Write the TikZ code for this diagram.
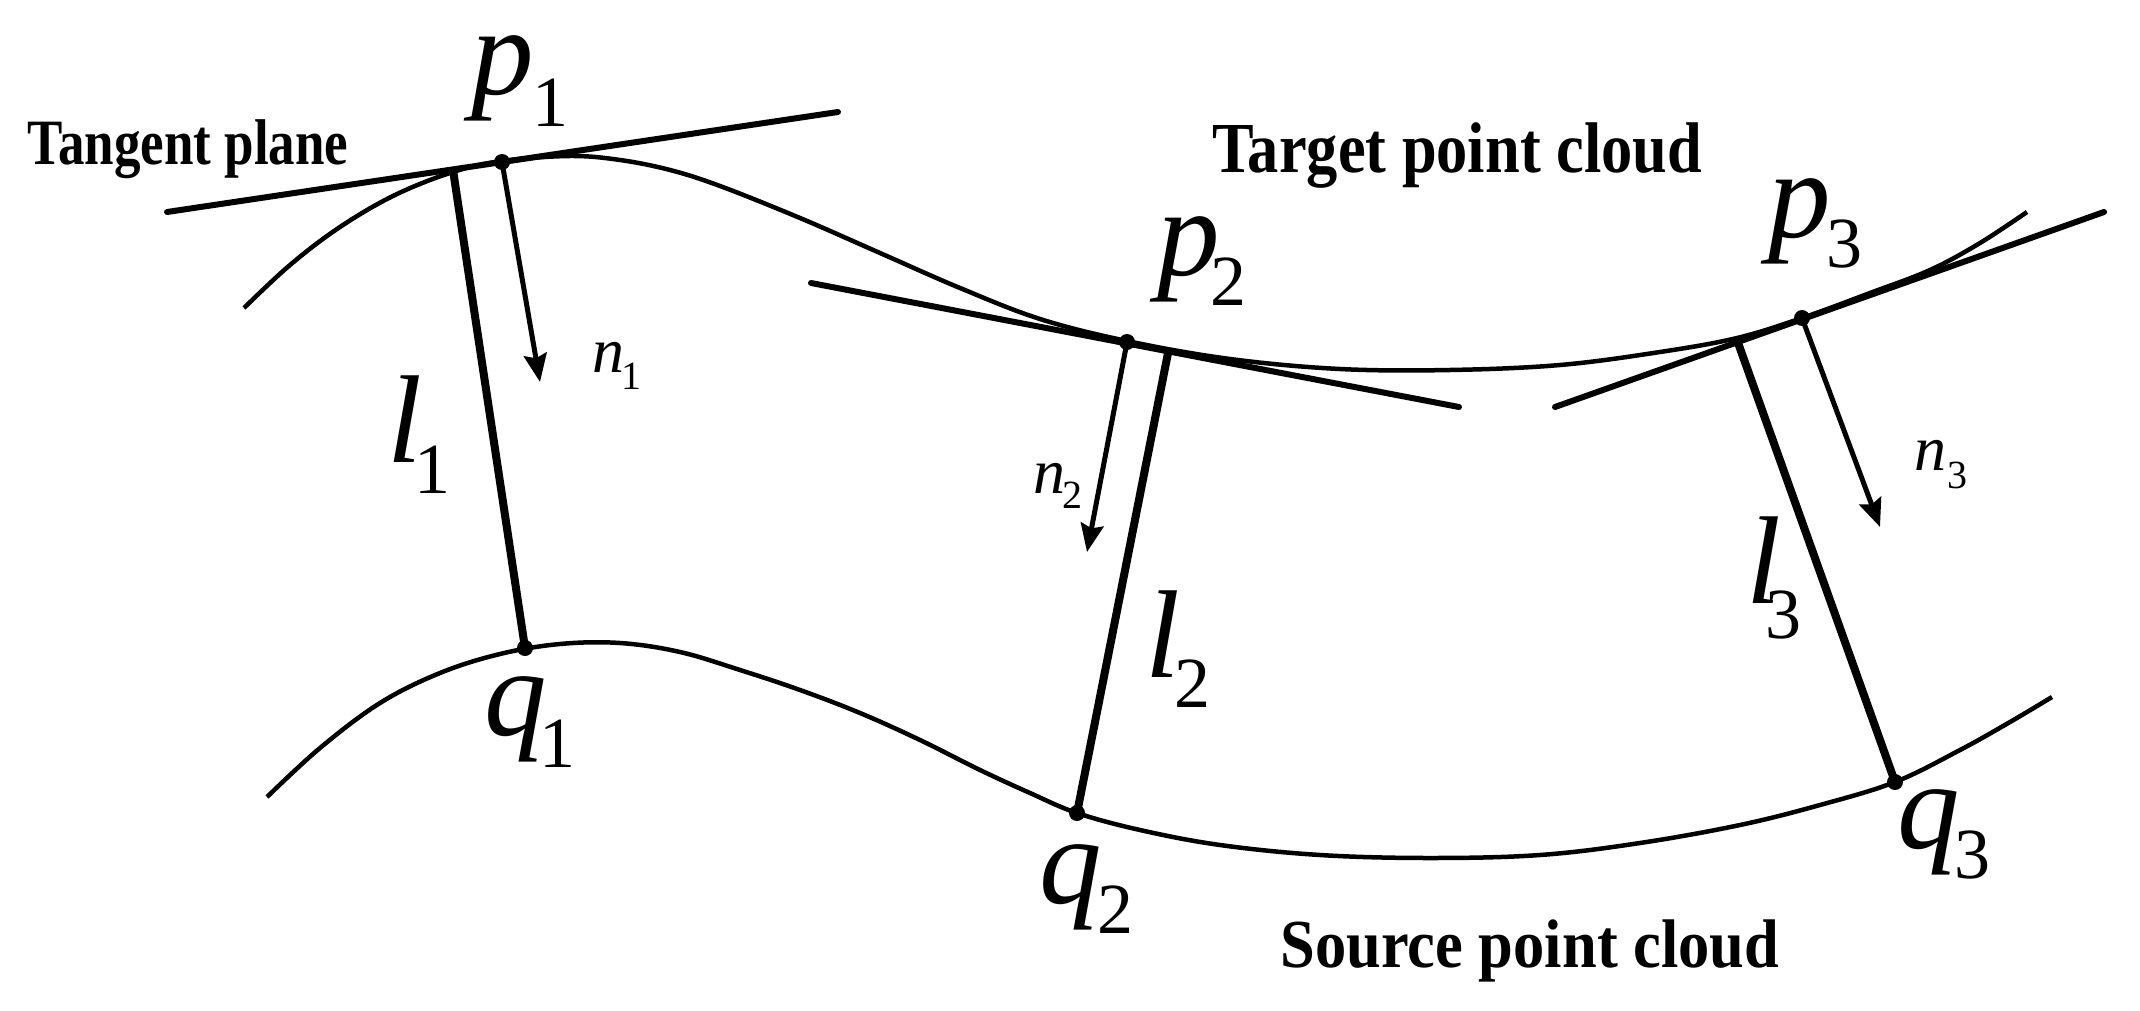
\documentclass[tikz,border=0pt]{standalone}
\usepackage{fontspec}
\setmainfont{Liberation Serif}
\usetikzlibrary{arrows.meta}
\newcommand{\bigL}{\fontsize{125}{125}\selectfont\itshape}
\newcommand{\bigS}{\fontsize{72}{72}\selectfont}
\newcommand{\smL}{\fontsize{64}{64}\selectfont\itshape}
\newcommand{\smS}{\fontsize{40}{40}\selectfont}
\begin{document}
\begin{tikzpicture}[x=1pt,y=-1pt,
  curve/.style={line width=4.5pt},
  tangent/.style={line width=6pt,line cap=round},
  lseg/.style={line width=8pt},
  normal/.style={line width=5pt,-{Stealth[length=28pt,width=23pt,inset=4pt]}},
  dotpt/.style={fill=black},
  lab/.style={inner sep=0pt,outer sep=0pt,anchor=base west},
  title/.style={inner sep=0pt,outer sep=0pt,anchor=base,font=\bfseries}]
\useasboundingbox[fill=white] (0,0) rectangle (2140,1011);

% points
\coordinate (p1) at (502,162);
\coordinate (p2) at (1127,342);
\coordinate (p3) at (1802,318);
\coordinate (q1) at (525,648);
\coordinate (q2) at (1077,813);
\coordinate (q3) at (1895,782);
\coordinate (l1top) at (453,170);
\coordinate (l2top) at (1168,353);
\coordinate (l3top) at (1737,340);
\coordinate (n1tip) at (540,382);
\coordinate (n2tip) at (1087,552);
\coordinate (n3tip) at (1880,527);
\coordinate (t1a) at (167,212);
\coordinate (t1b) at (838,112);
\coordinate (t2a) at (811,283);
\coordinate (t2b) at (1459,407);
\coordinate (t3a) at (1555,407);
\coordinate (t3b) at (2104,212);

% target curve
\draw[curve] plot[smooth,tension=0.6] coordinates {
 (244,308) (290,265) (340,227) (395,195) (453,172) (502,161) (570,156)
 (620,160) (670,170) (720,186) (800,218) (880,253) (960,288) (1040,319)
 (1127,341) (1230,359) (1340,369) (1450,370) (1560,365) (1660,352)
 (1737,338) (1802,318) (1870,293) (1930,270) (1980,243) (2027,212)};

% source curve
\draw[curve] plot[smooth,tension=0.6] coordinates {
 (267,797) (320,748) (380,703) (440,673) (500,654) (560,644) (620,643)
 (680,652) (740,670) (800,690) (860,713) (920,740) (980,770) (1030,793)
 (1077,813) (1140,830) (1220,845) (1320,855) (1430,858) (1540,855)
 (1640,843) (1740,825) (1820,805) (1895,782) (1960,750) (2010,722) (2052,697)};

% tangent planes
\draw[tangent] (t1a) -- (t1b);
\draw[tangent] (t2a) -- (t2b);
\draw[tangent] (t3a) -- (t3b);

% correspondences
\draw[lseg] (l1top) -- (q1);
\draw[lseg] (l2top) -- (q2);
\draw[lseg] (l3top) -- (q3);

% normals
\draw[normal] (p1) -- (n1tip);
\draw[normal] (p2) -- (n2tip);
\draw[normal] (p3) -- (n3tip);

% dots
\foreach \d in {p1,p2,p3,q1,q2,q3} \fill[dotpt] (\d) circle (8);

% labels
\node[lab] (lp1) at (471,95) {\bigL p};
\node[lab] (lp1s) at (532,127) {\bigS 1};
\node[lab] (lp2) at (1157,275) {\bigL p};
\node[lab] (lp2s) at (1210,305) {\bigS 2};
\node[lab] (lp3) at (1768,237) {\bigL p};
\node[lab] (lp3s) at (1826,267) {\bigS 3};

\node[lab] (lq1) at (484,735) {\bigL q};
\node[lab] (lq1s) at (539,767) {\bigS 1};
\node[lab] (lq2) at (1039,903) {\bigL q};
\node[lab] (lq2s) at (1097,933) {\bigS 2};
\node[lab] (lq3) at (1897,848) {\bigL q};
\node[lab] (lq3s) at (1954,878) {\bigS 3};

\node[lab] (ll1) at (387,462) {\bigL l};
\node[lab] (ll1s) at (414,493) {\bigS 1};
\node[lab] (ll2) at (1145,677) {\bigL l};
\node[lab] (ll2s) at (1174,707) {\bigS 2};
\node[lab] (ll3) at (1746,603) {\bigL l};
\node[lab] (ll3s) at (1765,638) {\bigS 3};

\node[lab] (ln1) at (592,372) {\smL n};
\node[lab] (ln1s) at (621,389) {\smS 1};
\node[lab] (ln2) at (1033,493) {\smL n};
\node[lab] (ln2s) at (1062,508) {\smS 2};
\node[lab] (ln3) at (1914,470) {\smL n};
\node[lab] (ln3s) at (1947,488) {\smS 3};

% titles
\node[title] (ttan) at (188,165) {\fontsize{53}{53}\selectfont\scalebox{1}[1.22]{Tangent plane}};
\node[title] (ttgt) at (1457,173) {\fontsize{62.4}{62.4}\selectfont\scalebox{1}[1.15]{Target point cloud}};
\node[title] (tsrc) at (1530,967) {\fontsize{62.5}{62.5}\selectfont\scalebox{1}[1.1]{Source point cloud}};
\end{tikzpicture}
\end{document}
